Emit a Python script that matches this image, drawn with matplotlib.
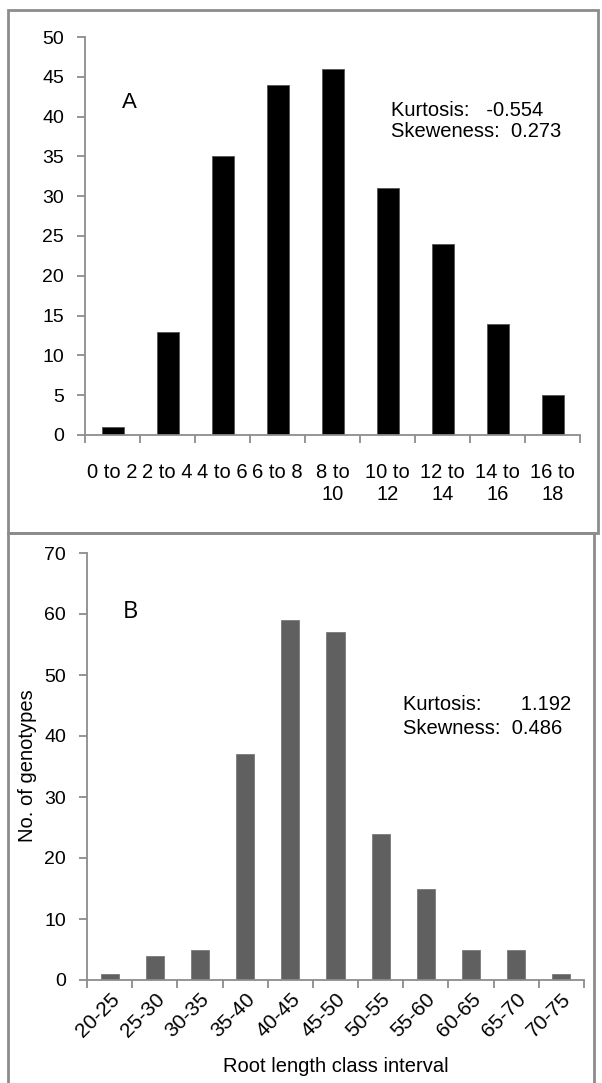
import matplotlib.pyplot as plt
from matplotlib.patches import Rectangle

plt.rcParams['font.family'] = ['Liberation Sans', 'DejaVu Sans']

# panel A data
labels_a = ['0 to 2', '2 to 4', '4 to 6', '6 to 8', '8 to\n10', '10 to\n12',
            '12 to\n14', '14 to\n16', '16 to\n18']
counts_a = [1, 13, 35, 44, 46, 31, 24, 14, 5]
stats_a = ['Kurtosis:   -0.554', 'Skeweness:  0.273']

# panel B data
labels_b = ['20-25', '25-30', '30-35', '35-40', '40-45', '45-50', '50-55',
            '55-60', '60-65', '65-70', '70-75']
counts_b = [1, 4, 5, 37, 59, 57, 24, 15, 5, 5, 1]
stats_b = ['Kurtosis:       1.192', 'Skewness:  0.486']

W, H = 602, 1083
fig = plt.figure(figsize=(W / 100, H / 100), dpi=100)
GREY = '#8c8c8c'


def px_axes(l, t, r, b):
    return fig.add_axes([l / W, 1 - b / H, (r - l) / W, (b - t) / H])


def px_text(x, y, s, **kw):
    fig.text(x / W, 1 - y / H, s, **kw)


def style(ax, n):
    for s in ['top', 'right']:
        ax.spines[s].set_visible(False)
    for s in ['left', 'bottom']:
        ax.spines[s].set_color(GREY)
        ax.spines[s].set_linewidth(1.3)
    ax.set_xlim(-0.5, n - 0.5)
    ax.set_xticks([i - 0.5 for i in range(n + 1)], minor=True)
    ax.tick_params(axis='x', which='minor', length=6, color=GREY, width=1.3)
    ax.tick_params(axis='x', which='major', length=0, labelsize=14.5)
    ax.tick_params(axis='y', length=6, color=GREY, width=1.3, labelsize=14, pad=9)


# outer frames around each panel
fig.patches.append(Rectangle((8 / W, 1 - 533 / H), 590 / W, 523 / H, transform=fig.transFigure,
                             fill=False, edgecolor=GREY, linewidth=2))
fig.patches.append(Rectangle((8 / W, 1 - 1095 / H), 586 / W, 562 / H, transform=fig.transFigure,
                             fill=False, edgecolor=GREY, linewidth=2))

# panel A
ax1 = px_axes(85, 37, 580, 435)
ax1.bar(range(len(counts_a)), counts_a, width=0.40, color='black', edgecolor='#555555', linewidth=0.6)
style(ax1, len(counts_a))
ax1.tick_params(axis='x', which='major', pad=20)
ax1.set_ylim(0, 50)
ax1.set_yticks(range(0, 51, 5))
ax1.set_xticks(range(len(labels_a)))
ax1.set_xticklabels(labels_a, va='top', linespacing=1.2)
px_text(122, 103, 'A', fontsize=16, va='center', ha='left')
px_text(391, 110, stats_a[0], fontsize=14.5, va='center', ha='left')
px_text(391, 132, stats_a[1], fontsize=14.5, va='center', ha='left')

# panel B
ax2 = px_axes(87, 553, 584, 980)
ax2.bar(range(len(counts_b)), counts_b, width=0.40, color='#606060', edgecolor='#7a7a7a', linewidth=0.6)
style(ax2, len(counts_b))
ax2.tick_params(axis='x', which='major', labelsize=15, pad=7)
ax2.set_ylim(0, 70)
ax2.set_yticks(range(0, 71, 10))
ax2.set_xticks(range(len(labels_b)))
ax2.set_xticklabels(labels_b, rotation=45, ha='right', rotation_mode='anchor')
px_text(28, 766, 'No. of genotypes', fontsize=14.5, rotation=90, va='center', ha='center')
px_text(336, 1067, 'Root length class interval', fontsize=14.5, va='center', ha='center')
px_text(123, 612, 'B', fontsize=17, va='center', ha='left', family=['Open Sans', 'DejaVu Sans'])
px_text(403, 705, stats_b[0], fontsize=14.5, va='center', ha='left')
px_text(403, 729, stats_b[1], fontsize=14.5, va='center', ha='left')

fig.savefig('out.png', dpi=100)
